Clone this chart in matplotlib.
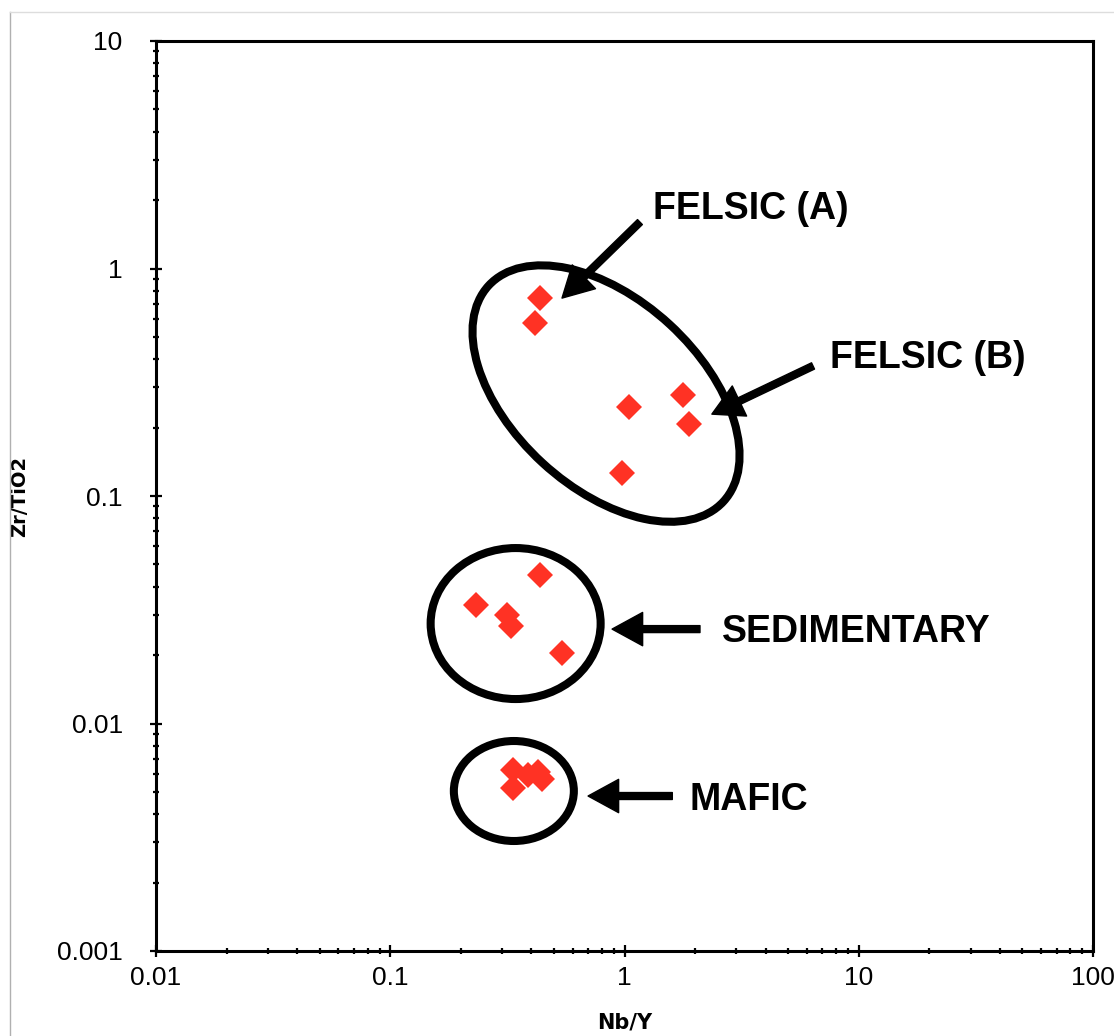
import matplotlib
matplotlib.use("Agg")
import matplotlib.pyplot as plt
from matplotlib.patches import Ellipse
from matplotlib.lines import Line2D
import matplotlib.transforms as mtrans
import numpy as np

# ---- data (Nb/Y vs Zr/TiO2) ----
felsic_x = [0.435, 0.415, 1.045, 1.77, 1.88, 0.973]
felsic_y = [0.744, 0.578, 0.247, 0.278, 0.207, 0.126]
sed_x = [0.435, 0.232, 0.316, 0.328, 0.540]
sed_y = [0.045, 0.0332, 0.030, 0.0267, 0.0204]
mafic_x = [0.334, 0.334, 0.387, 0.428, 0.446]
mafic_y = [0.00625, 0.0052, 0.00594, 0.00612, 0.0057]

x_ticks = [0.01, 0.1, 1, 10, 100]
x_ticklabels = ["0.01", "0.1", "1", "10", "100"]
y_ticks = [0.001, 0.01, 0.1, 1, 10]
y_ticklabels = ["0.001", "0.01", "0.1", "1", "10"]

# group ellipses: center (data), width/height (px), angle (deg)
ell_centers = [(0.834, 0.282), (0.343, 0.0275), (0.337, 0.00505)]
ell_sizes = [(319, 188, -42.6), (170, 151, 0), (120, 100, 0)]

# annotations: label, text pos, arrow tail, arrow tip (data coords)
labels = ["FELSIC (A)", "FELSIC (B)", "SEDIMENTARY", "MAFIC"]
label_pos = [(1.324, 1.83), (7.54, 0.404), (2.61, 0.0252), (1.90, 0.00461)]
arrow_tail = [(1.164, 1.60), (6.38, 0.373), (2.10, 0.0260), (1.60, 0.0048)]
arrow_tip = [(0.541, 0.741), (2.36, 0.229), (0.885, 0.0260), (0.699, 0.0048)]

W, H, DPI = 1114, 1036, 100
fig = plt.figure(figsize=(W / DPI, H / DPI), dpi=DPI)
ax = fig.add_axes([156 / W, 1 - 951 / H, (1093 - 156) / W, (951 - 41) / H])

ax.set_xscale("log")
ax.set_yscale("log")
ax.set_xlim(0.01, 100)
ax.set_ylim(0.001, 10)

red = "#FF3224"
allx = felsic_x + sed_x + mafic_x
ally = felsic_y + sed_y + mafic_y
ax.plot(allx, ally, linestyle="none", marker="D", markersize=13,
        color=red, markeredgewidth=0, zorder=3)

lw_ell = 5.8
for (cx, cy), (w, h, ang) in zip(ell_centers, ell_sizes):
    tr = mtrans.Affine2D().scale(1.0) + mtrans.ScaledTranslation(cx, cy, ax.transData)
    e = Ellipse((0, 0), w, h, angle=ang, fill=False, edgecolor="black",
                linewidth=lw_ell, transform=tr, clip_on=False, zorder=4)
    ax.add_artist(e)

for lab, lp, tail, tip in zip(labels, label_pos, arrow_tail, arrow_tip):
    ax.annotate("", xy=tip, xytext=tail, xycoords="data", textcoords="data",
                arrowprops=dict(facecolor="black", edgecolor="black", width=5,
                                headwidth=24, headlength=22, shrink=0),
                zorder=5)
    ax.text(lp[0], lp[1], lab, ha="left", va="center", fontsize=27,
            fontweight="bold", family="Liberation Sans", zorder=5)

for s in ax.spines.values():
    s.set_linewidth(2.2)

ax.set_xticks(x_ticks)
ax.set_xticklabels(x_ticklabels)
ax.set_yticks(y_ticks)
ax.set_yticklabels(y_ticklabels)
ax.xaxis.set_minor_locator(matplotlib.ticker.LogLocator(base=10, subs=np.arange(2, 10)))
ax.yaxis.set_minor_locator(matplotlib.ticker.LogLocator(base=10, subs=np.arange(2, 10)))
ax.xaxis.set_minor_formatter(matplotlib.ticker.NullFormatter())
ax.yaxis.set_minor_formatter(matplotlib.ticker.NullFormatter())

ax.tick_params(which="major", direction="inout", length=8, width=1.6,
               labelsize=19, labelfontfamily="Liberation Sans")
ax.tick_params(which="minor", direction="inout", length=5, width=1.6)
ax.tick_params(axis="x", which="major", pad=7)
ax.tick_params(axis="y", which="major", pad=20)

ax.set_xlabel("Nb/Y", fontsize=15, fontweight="bold", family="DejaVu Sans", labelpad=16)
ax.set_ylabel("Zr/TiO2", fontsize=14, fontweight="bold", family="DejaVu Sans", labelpad=20)

# thin frame lines of the page
fig.add_artist(Line2D([10 / W, 10 / W], [0, 1 - 12 / H], transform=fig.transFigure,
                      color="#b0b0b0", linewidth=1))
fig.add_artist(Line2D([10 / W, 1], [1 - 12 / H, 1 - 12 / H], transform=fig.transFigure,
                      color="#dddddd", linewidth=1))

fig.savefig("out.png", dpi=DPI)
